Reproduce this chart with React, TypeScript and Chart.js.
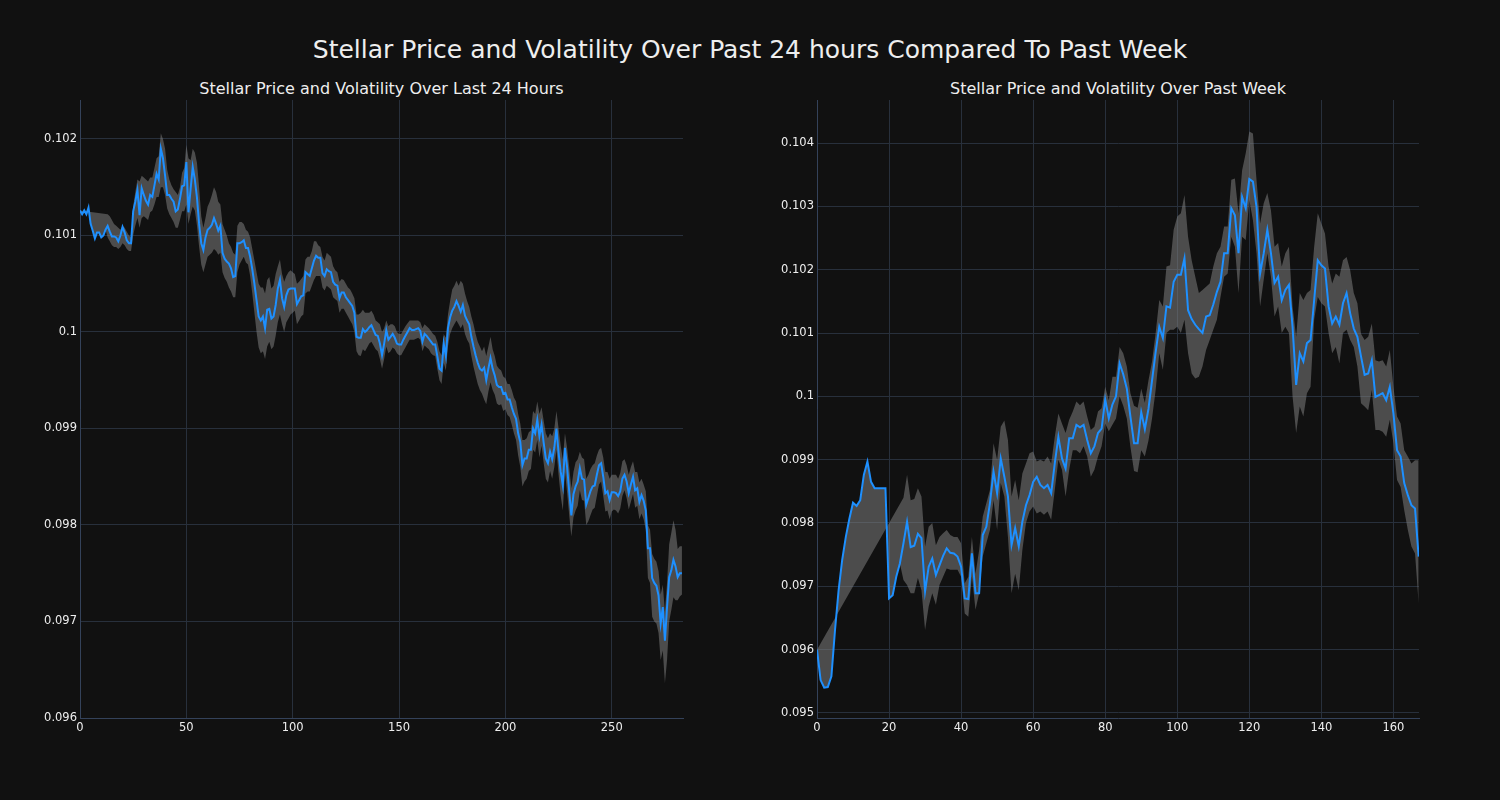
import React, { useEffect, useRef } from "react";
import { Chart, registerables } from "chart.js";

Chart.register(...registerables);

const FONT = "'DejaVu Sans', 'Liberation Sans', sans-serif";
const BG = "#111111";
const TEXT = "#eeeeee";
const GRID = "#28303c";
const AXIS = "#34425a";
const LINE = "#1e90ff";
const BAND = "rgba(130,130,130,0.52)";

const mainTitle = "Stellar Price and Volatility Over Past 24 hours Compared To Past Week";
const dayTitle = "Stellar Price and Volatility Over Last 24 Hours";
const weekTitle = "Stellar Price and Volatility Over Past Week";

// ---- Last 24 hours (5-minute steps) ----
const dayPrice = [
  0.10126, 0.10122, 0.10126, 0.10122, 0.10129, 0.10112, 0.10105, 0.10097, 0.10103, 0.10103,
  0.10098, 0.10100, 0.10106, 0.10110, 0.10104, 0.10099, 0.10099, 0.10098, 0.10094, 0.10100,
  0.10109, 0.10103, 0.10095, 0.10092, 0.10092, 0.10125, 0.10135, 0.10147, 0.10121, 0.10149,
  0.10142, 0.10136, 0.10132, 0.10142, 0.10140, 0.10152, 0.10164, 0.10158, 0.10190, 0.10180,
  0.10162, 0.10142, 0.10142, 0.10138, 0.10135, 0.10125, 0.10127, 0.10138, 0.10151, 0.10152,
  0.10176, 0.10124, 0.10148, 0.10171, 0.10158, 0.10139, 0.10112, 0.10092, 0.10085, 0.10098,
  0.10106, 0.10108, 0.10111, 0.10118, 0.10112, 0.10105, 0.10110, 0.10082, 0.10076, 0.10073,
  0.10071, 0.10066, 0.10057, 0.10058, 0.10092, 0.10092, 0.10093, 0.10095, 0.10087, 0.10087,
  0.10078, 0.10065, 0.10050, 0.10033, 0.10016, 0.10012, 0.10016, 0.10004, 0.10023, 0.10024,
  0.10014, 0.10016, 0.10028, 0.10045, 0.10054, 0.10035, 0.10026, 0.10038, 0.10044, 0.10045,
  0.10045, 0.10045, 0.10029, 0.10033, 0.10037, 0.10038, 0.10062, 0.10060, 0.10058, 0.10066,
  0.10074, 0.10079, 0.10077, 0.10077, 0.10061, 0.10058, 0.10065, 0.10063, 0.10062, 0.10052,
  0.10049, 0.10048, 0.10035, 0.10041, 0.10041, 0.10036, 0.10033, 0.10030, 0.10027, 0.10020,
  0.09995, 0.09994, 0.09994, 0.10003, 0.10000, 0.10002, 0.10005, 0.10007, 0.10002, 0.09997,
  0.09996, 0.09988, 0.09976, 0.09988, 0.10002, 0.09992, 0.09995, 0.09998, 0.09994, 0.09988,
  0.09987, 0.09987, 0.09992, 0.09996, 0.10000, 0.10004, 0.10002, 0.10002, 0.10003, 0.10004,
  0.10001, 0.09990, 0.09998, 0.09996, 0.09993, 0.09990, 0.09987, 0.09987, 0.09975, 0.09962,
  0.09960, 0.09988, 0.09975, 0.10004, 0.10015, 0.10022, 0.10026, 0.10032, 0.10027, 0.10021,
  0.10028, 0.10017, 0.10012, 0.10008, 0.09995, 0.09985, 0.09976, 0.09968, 0.09962, 0.09960,
  0.09963, 0.09950, 0.09962, 0.09973, 0.09962, 0.09955, 0.09945, 0.09943, 0.09943, 0.09936,
  0.09937, 0.09930, 0.09930, 0.09922, 0.09915, 0.09910, 0.09895, 0.09886, 0.09862, 0.09869,
  0.09869, 0.09878, 0.09878, 0.09900, 0.09895, 0.09909, 0.09892, 0.09904, 0.09885, 0.09869,
  0.09864, 0.09876, 0.09868, 0.09880, 0.09900, 0.09875, 0.09855, 0.09841, 0.09880, 0.09860,
  0.09835, 0.09810, 0.09832, 0.09840, 0.09845, 0.09859, 0.09848, 0.09847, 0.09821, 0.09828,
  0.09835, 0.09840, 0.09841, 0.09852, 0.09862, 0.09864, 0.09850, 0.09833, 0.09835, 0.09826,
  0.09834, 0.09834, 0.09833, 0.09830, 0.09835, 0.09848, 0.09852, 0.09845, 0.09833, 0.09842,
  0.09850, 0.09836, 0.09838, 0.09824, 0.09831, 0.09825, 0.09815, 0.09776, 0.09776, 0.09745,
  0.09740, 0.09737, 0.09727, 0.09698, 0.09715, 0.09680, 0.09715, 0.09746, 0.09753, 0.09764,
  0.09757, 0.09746, 0.09750, 0.09750,
];

const dayUpper = [
  0.10126, null, null, null, null, null, null, null, null, null,
  null, null, null, 0.10122, 0.10120, 0.10116, 0.10112, 0.10110, 0.10108, 0.10106,
  0.10110, 0.10108, 0.10104, 0.10100, 0.10098, 0.10130, 0.10145, 0.10158, 0.10156, 0.10162,
  0.10160, 0.10158, 0.10156, 0.10160, 0.10160, 0.10170, 0.10180, 0.10182, 0.10206, 0.10200,
  0.10190, 0.10168, 0.10158, 0.10152, 0.10148, 0.10145, 0.10142, 0.10150, 0.10165, 0.10170,
  0.10194, 0.10180, 0.10178, 0.10190, 0.10186, 0.10175, 0.10150, 0.10120, 0.10108, 0.10118,
  0.10130, 0.10135, 0.10142, 0.10150, 0.10145, 0.10135, 0.10132, 0.10112, 0.10106, 0.10100,
  0.10092, 0.10088, 0.10082, 0.10080, 0.10110, 0.10114, 0.10114, 0.10112, 0.10106, 0.10104,
  0.10098, 0.10086, 0.10074, 0.10062, 0.10050, 0.10046, 0.10046, 0.10040, 0.10054, 0.10057,
  0.10045, 0.10048, 0.10060, 0.10068, 0.10075, 0.10060, 0.10052, 0.10058, 0.10062, 0.10064,
  0.10062, 0.10060, 0.10050, 0.10052, 0.10055, 0.10058, 0.10075, 0.10078, 0.10078, 0.10084,
  0.10094, 0.10094, 0.10090, 0.10088, 0.10078, 0.10074, 0.10082, 0.10080, 0.10078, 0.10068,
  0.10064, 0.10062, 0.10052, 0.10055, 0.10054, 0.10050, 0.10046, 0.10044, 0.10040, 0.10035,
  0.10018, 0.10018, 0.10020, 0.10023, 0.10020, 0.10020, 0.10020, 0.10022, 0.10018, 0.10012,
  0.10010, 0.10008, 0.10000, 0.10004, 0.10012, 0.10006, 0.10008, 0.10008, 0.10006, 0.10000,
  0.09998, 0.09998, 0.10002, 0.10006, 0.10009, 0.10012, 0.10012, 0.10012, 0.10012, 0.10012,
  0.10010, 0.10004, 0.10008, 0.10006, 0.10004, 0.10001, 0.09998, 0.09996, 0.09990, 0.09980,
  0.09976, 0.09998, 0.09994, 0.10018, 0.10032, 0.10044, 0.10048, 0.10053, 0.10048, 0.10053,
  0.10050, 0.10040, 0.10032, 0.10026, 0.10016, 0.10008, 0.09998, 0.09990, 0.09985, 0.09980,
  0.09985, 0.09975, 0.09985, 0.09995, 0.09982, 0.09975, 0.09965, 0.09962, 0.09960, 0.09954,
  0.09952, 0.09946, 0.09946, 0.09940, 0.09932, 0.09928, 0.09915, 0.09905, 0.09888, 0.09888,
  0.09890, 0.09896, 0.09898, 0.09918, 0.09915, 0.09928, 0.09915, 0.09922, 0.09908, 0.09895,
  0.09890, 0.09895, 0.09892, 0.09900, 0.09918, 0.09900, 0.09882, 0.09868, 0.09895, 0.09880,
  0.09860, 0.09838, 0.09855, 0.09865, 0.09868, 0.09876, 0.09870, 0.09868, 0.09848, 0.09852,
  0.09858, 0.09862, 0.09864, 0.09872, 0.09878, 0.09880, 0.09870, 0.09855, 0.09855, 0.09848,
  0.09852, 0.09852, 0.09852, 0.09848, 0.09854, 0.09866, 0.09868, 0.09862, 0.09852, 0.09860,
  0.09866, 0.09855, 0.09855, 0.09844, 0.09848, 0.09842, 0.09835, 0.09800, 0.09795, 0.09770,
  0.09765, 0.09762, 0.09752, 0.09728, 0.09738, 0.09710, 0.09740, 0.09780, 0.09792, 0.09805,
  0.09795, 0.09775, 0.09778, 0.09778,
];

const dayLower = [
  0.10126, 0.10122, 0.10126, 0.10122, 0.10129, 0.10112, 0.10105, 0.10097, 0.10103, 0.10103,
  0.10098, 0.10100, 0.10106, 0.10098, 0.10094, 0.10090, 0.10088, 0.10088, 0.10086, 0.10088,
  0.10092, 0.10090, 0.10086, 0.10084, 0.10084, 0.10100, 0.10110, 0.10118, 0.10108, 0.10118,
  0.10120, 0.10118, 0.10116, 0.10124, 0.10126, 0.10132, 0.10140, 0.10140, 0.10150, 0.10150,
  0.10142, 0.10128, 0.10122, 0.10118, 0.10114, 0.10108, 0.10108, 0.10116, 0.10125, 0.10125,
  0.10132, 0.10112, 0.10122, 0.10130, 0.10126, 0.10110, 0.10088, 0.10070, 0.10062, 0.10070,
  0.10078, 0.10080, 0.10082, 0.10086, 0.10084, 0.10080, 0.10082, 0.10062, 0.10056, 0.10052,
  0.10046, 0.10042, 0.10036, 0.10036, 0.10062, 0.10070, 0.10074, 0.10078, 0.10072, 0.10070,
  0.10058, 0.10040, 0.10020, 0.10000, 0.09984, 0.09978, 0.09980, 0.09972, 0.09985, 0.09990,
  0.09982, 0.09985, 0.09996, 0.10010, 0.10018, 0.10008, 0.10000, 0.10010, 0.10014, 0.10018,
  0.10020, 0.10022, 0.10008, 0.10012, 0.10016, 0.10018, 0.10040, 0.10042, 0.10042, 0.10048,
  0.10054, 0.10058, 0.10058, 0.10058, 0.10046, 0.10043, 0.10048, 0.10046, 0.10044, 0.10036,
  0.10034, 0.10032, 0.10020, 0.10024, 0.10024, 0.10020, 0.10016, 0.10012, 0.10008, 0.10000,
  0.09980, 0.09976, 0.09975, 0.09982, 0.09980, 0.09984, 0.09988, 0.09990, 0.09986, 0.09982,
  0.09980, 0.09972, 0.09962, 0.09972, 0.09985, 0.09978, 0.09980, 0.09984, 0.09982, 0.09978,
  0.09976, 0.09976, 0.09980, 0.09984, 0.09988, 0.09992, 0.09992, 0.09992, 0.09993, 0.09994,
  0.09992, 0.09980, 0.09986, 0.09984, 0.09982, 0.09978, 0.09976, 0.09975, 0.09962, 0.09950,
  0.09946, 0.09968, 0.09960, 0.09985, 0.09998, 0.10004, 0.10008, 0.10012, 0.10008, 0.10004,
  0.10008, 0.09998, 0.09992, 0.09988, 0.09975, 0.09964, 0.09955, 0.09946, 0.09940, 0.09936,
  0.09930, 0.09925, 0.09938, 0.09948, 0.09940, 0.09935, 0.09926, 0.09924, 0.09925, 0.09918,
  0.09920, 0.09914, 0.09912, 0.09904, 0.09895, 0.09888, 0.09872, 0.09860, 0.09840, 0.09845,
  0.09848, 0.09856, 0.09858, 0.09878, 0.09875, 0.09888, 0.09870, 0.09882, 0.09864, 0.09848,
  0.09844, 0.09856, 0.09848, 0.09860, 0.09878, 0.09852, 0.09830, 0.09815, 0.09855, 0.09834,
  0.09810, 0.09788, 0.09808, 0.09815, 0.09820, 0.09836, 0.09826, 0.09825, 0.09800, 0.09804,
  0.09810, 0.09816, 0.09818, 0.09830, 0.09842, 0.09845, 0.09830, 0.09814, 0.09815, 0.09806,
  0.09814, 0.09816, 0.09815, 0.09812, 0.09817, 0.09830, 0.09836, 0.09828, 0.09816, 0.09824,
  0.09832, 0.09818, 0.09820, 0.09806, 0.09812, 0.09806, 0.09795, 0.09745, 0.09740, 0.09705,
  0.09700, 0.09698, 0.09688, 0.09660, 0.09670, 0.09636, 0.09660, 0.09700, 0.09712, 0.09725,
  0.09722, 0.09722, 0.09726, 0.09728,
];

// ---- Past week (hourly steps) ----
const weekPrice = [
  0.09600, 0.09552, 0.09540, 0.09541, 0.09558, 0.09631, 0.09694, 0.09742, 0.09778, 0.09807,
  0.09832, 0.09827, 0.09836, 0.09876, 0.09897, 0.09865, 0.09855, 0.09855, 0.09855, 0.09855,
  0.09681, 0.09686, 0.09715, 0.09736, 0.09768, 0.09802, 0.09762, 0.09764, 0.09783, 0.09776,
  0.09692, 0.09731, 0.09744, 0.09718, 0.09733, 0.09748, 0.09760, 0.09753, 0.09752, 0.09747,
  0.09731, 0.09681, 0.09680, 0.09752, 0.09689, 0.09689, 0.09781, 0.09794, 0.09831, 0.09881,
  0.09847, 0.09902, 0.09873, 0.09842, 0.09765, 0.09792, 0.09763, 0.09802, 0.09828, 0.09844,
  0.09865, 0.09873, 0.09860, 0.09855, 0.09860, 0.09847, 0.09894, 0.09936, 0.09902, 0.09886,
  0.09934, 0.09934, 0.09955, 0.09951, 0.09955, 0.09931, 0.09910, 0.09921, 0.09942, 0.09949,
  0.09995, 0.09965, 0.09987, 0.10000, 0.10052, 0.10035, 0.10012, 0.09968, 0.09926, 0.09926,
  0.09975, 0.09948, 0.09980, 0.10025, 0.10070, 0.10110, 0.10092, 0.10142, 0.10140, 0.10181,
  0.10192, 0.10192, 0.10218, 0.10136, 0.10122, 0.10113, 0.10106, 0.10100, 0.10126, 0.10128,
  0.10145, 0.10165, 0.10181, 0.10226, 0.10226, 0.10297, 0.10286, 0.10226, 0.10315, 0.10297,
  0.10343, 0.10339, 0.10299, 0.10194, 0.10226, 0.10263, 0.10226, 0.10179, 0.10189, 0.10152,
  0.10168, 0.10176, 0.10110, 0.10018, 0.10068, 0.10055, 0.10084, 0.10089, 0.10152, 0.10215,
  0.10207, 0.10202, 0.10142, 0.10115, 0.10126, 0.10113, 0.10147, 0.10163, 0.10131, 0.10107,
  0.10094, 0.10063, 0.10034, 0.10036, 0.10057, 0.09999, 0.10002, 0.10005, 0.09994, 0.10015,
  0.09973, 0.09915, 0.09905, 0.09863, 0.09844, 0.09828, 0.09823, 0.09747,
];

const weekUpper = [
  0.09600, null, null, null, null, null, null, null, null, null,
  null, null, null, null, null, null, null, null, null, null,
  null, null, null, null, 0.09840, 0.09876, 0.09836, 0.09838, 0.09855, 0.09842,
  0.09763, 0.09794, 0.09800, 0.09765, 0.09778, 0.09784, 0.09789, 0.09781, 0.09778, 0.09778,
  0.09768, 0.09705, 0.09715, 0.09778, 0.09720, 0.09757, 0.09810, 0.09831, 0.09852, 0.09926,
  0.09900, 0.09952, 0.09962, 0.09931, 0.09842, 0.09868, 0.09836, 0.09878, 0.09894, 0.09910,
  0.09913, 0.09897, 0.09900, 0.09897, 0.09905, 0.09894, 0.09936, 0.09973, 0.09957, 0.09942,
  0.09963, 0.09976, 0.09992, 0.09986, 0.09992, 0.09968, 0.09947, 0.09952, 0.09976, 0.09981,
  0.10015, 0.09994, 0.10031, 0.10031, 0.10078, 0.10068, 0.10047, 0.10005, 0.09985, 0.09982,
  0.10012, 0.09990, 0.10025, 0.10055, 0.10100, 0.10152, 0.10142, 0.10205, 0.10207, 0.10263,
  0.10284, 0.10289, 0.10318, 0.10252, 0.10215, 0.10189, 0.10163, 0.10168, 0.10173, 0.10178,
  0.10205, 0.10226, 0.10236, 0.10268, 0.10268, 0.10342, 0.10344, 0.10289, 0.10357, 0.10384,
  0.10418, 0.10415, 0.10342, 0.10273, 0.10305, 0.10321, 0.10294, 0.10236, 0.10242, 0.10205,
  0.10226, 0.10236, 0.10142, 0.10094, 0.10163, 0.10152, 0.10163, 0.10168, 0.10236, 0.10289,
  0.10273, 0.10257, 0.10205, 0.10178, 0.10194, 0.10189, 0.10215, 0.10220, 0.10199, 0.10163,
  0.10147, 0.10099, 0.10089, 0.10094, 0.10115, 0.10057, 0.10055, 0.10057, 0.10047, 0.10073,
  0.10015, 0.09968, 0.09957, 0.09915, 0.09905, 0.09894, 0.09899, 0.09899,
];

const weekLower = [
  0.09600, 0.09552, 0.09540, 0.09541, 0.09558, 0.09631, 0.09694, 0.09742, 0.09778, 0.09807,
  0.09832, 0.09827, 0.09836, 0.09876, 0.09897, 0.09865, 0.09855, 0.09855, 0.09855, 0.09855,
  0.09681, 0.09686, 0.09715, 0.09736, 0.09710, 0.09702, 0.09689, 0.09689, 0.09713, 0.09694,
  0.09631, 0.09668, 0.09689, 0.09671, 0.09702, 0.09715, 0.09728, 0.09726, 0.09726, 0.09726,
  0.09715, 0.09657, 0.09652, 0.09715, 0.09663, 0.09689, 0.09747, 0.09768, 0.09789, 0.09836,
  0.09789, 0.09863, 0.09842, 0.09778, 0.09689, 0.09720, 0.09694, 0.09757, 0.09800, 0.09818,
  0.09826, 0.09815, 0.09818, 0.09813, 0.09818, 0.09805, 0.09852, 0.09900, 0.09884, 0.09842,
  0.09884, 0.09915, 0.09915, 0.09910, 0.09921, 0.09905, 0.09873, 0.09884, 0.09905, 0.09921,
  0.09957, 0.09945, 0.09955, 0.09965, 0.10000, 0.09985, 0.09965, 0.09920, 0.09882, 0.09880,
  0.09915, 0.09905, 0.09930, 0.09965, 0.10010, 0.10068, 0.10042, 0.10100, 0.10105, 0.10105,
  0.10110, 0.10100, 0.10121, 0.10068, 0.10036, 0.10028, 0.10031, 0.10047, 0.10073, 0.10089,
  0.10105, 0.10121, 0.10157, 0.10189, 0.10194, 0.10252, 0.10236, 0.10163, 0.10252, 0.10247,
  0.10310, 0.10278, 0.10226, 0.10142, 0.10184, 0.10226, 0.10189, 0.10126, 0.10142, 0.10100,
  0.10110, 0.10100, 0.10000, 0.09942, 0.09984, 0.09968, 0.10005, 0.10015, 0.10121, 0.10157,
  0.10147, 0.10142, 0.10100, 0.10068, 0.10078, 0.10052, 0.10100, 0.10105, 0.10089, 0.10078,
  0.10047, 0.09989, 0.09984, 0.09978, 0.10010, 0.09947, 0.09947, 0.09944, 0.09936, 0.09963,
  0.09926, 0.09868, 0.09857, 0.09820, 0.09789, 0.09763, 0.09752, 0.09673,
];

type PanelProps = {
  price: number[];
  upper: (number | null)[];
  lower: number[];
  xMax: number;
  xStep: number;
  yMin: number;
  yMax: number;
  left: number;
  top: number;
  width: number;
  height: number;
};

const toPoints = (arr: (number | null)[]) =>
  arr
    .map((y, i) => (y === null ? null : { x: i, y }))
    .filter((p) => p !== null) as { x: number; y: number }[];

function Panel(props: PanelProps) {
  const ref = useRef<HTMLCanvasElement | null>(null);
  useEffect(() => {
    if (!ref.current) return;
    const tickFont = { family: FONT, size: 11.5 };
    const chart = new Chart(ref.current, {
      type: "line",
      data: {
        datasets: [
          {
            data: toPoints(props.price),
            borderColor: LINE,
            borderWidth: 2,
            pointRadius: 0,
            fill: false,
            tension: 0,
            order: 0,
          },
          {
            data: toPoints(props.upper),
            borderColor: "rgba(0,0,0,0)",
            borderWidth: 0,
            pointRadius: 0,
            fill: false,
            tension: 0,
            order: 1,
          },
          {
            data: toPoints(props.lower),
            borderColor: "rgba(0,0,0,0)",
            borderWidth: 0,
            pointRadius: 0,
            backgroundColor: BAND,
            fill: { target: 1, above: BAND, below: BAND },
            tension: 0,
            order: 2,
          },
        ],
      },
      options: {
        animation: false,
        responsive: false,
        maintainAspectRatio: false,
        layout: { padding: { top: 15, right: 5, left: 0, bottom: 0 } },
        plugins: {
          legend: { display: false },
          tooltip: { enabled: false },
          title: { display: false },
        },
        scales: {
          x: {
            type: "linear",
            min: 0,
            max: props.xMax,
            ticks: {
              stepSize: props.xStep,
              includeBounds: false,
              color: TEXT,
              font: tickFont,
              padding: 3,
              maxRotation: 0,
              autoSkip: false,
              callback: (v: any) => String(Math.round(Number(v))),
            },
            grid: { color: GRID, drawTicks: false, lineWidth: 1 },
            border: { color: AXIS, width: 1 },
            afterFit: (s: any) => {
              s.height = 30;
            },
          },
          y: {
            type: "linear",
            min: props.yMin,
            max: props.yMax,
            ticks: {
              stepSize: 0.001,
              includeBounds: false,
              color: TEXT,
              font: tickFont,
              padding: 3,
              callback: (v: any) => String(Number(Number(v).toFixed(3))),
            },
            grid: { color: GRID, drawTicks: false, lineWidth: 1 },
            border: { color: AXIS, width: 1 },
            afterFit: (s: any) => {
              s.width = 60;
            },
          },
        },
      },
    } as any);
    return () => chart.destroy();
  }, []);
  return (
    <canvas
      ref={ref}
      width={props.width}
      height={props.height}
      style={{
        position: "absolute",
        left: props.left,
        top: props.top,
        width: props.width,
        height: props.height,
      }}
    />
  );
}

export default function App() {
  useEffect(() => {
    document.body.style.background = BG;
  }, []);
  const titleBase: React.CSSProperties = {
    position: "absolute",
    textAlign: "center",
    color: TEXT,
    fontFamily: FONT,
    whiteSpace: "nowrap",
  };
  return (
    <div
      style={{
        position: "absolute",
        left: 0,
        top: 0,
        width: 1500,
        height: 800,
        background: BG,
        overflow: "hidden",
      }}
    >
      <div style={{ ...titleBase, left: 0, width: 1500, top: 35, lineHeight: "30px", fontSize: 25 }}>
        {mainTitle}
      </div>
      <div style={{ ...titleBase, left: 80, width: 603, top: 79, lineHeight: "20px", fontSize: 16 }}>
        {dayTitle}
      </div>
      <div style={{ ...titleBase, left: 817, width: 602, top: 79, lineHeight: "20px", fontSize: 16 }}>
        {weekTitle}
      </div>
      <Panel
        price={dayPrice}
        upper={dayUpper}
        lower={dayLower}
        xMax={283.5}
        xStep={50}
        yMin={0.096}
        yMax={0.102404}
        left={20}
        top={85}
        width={668}
        height={663}
      />
      <Panel
        price={weekPrice}
        upper={weekUpper}
        lower={weekLower}
        xMax={167.1}
        xStep={20}
        yMin={0.094921}
        yMax={0.104679}
        left={757}
        top={85}
        width={667}
        height={663}
      />
    </div>
  );
}
